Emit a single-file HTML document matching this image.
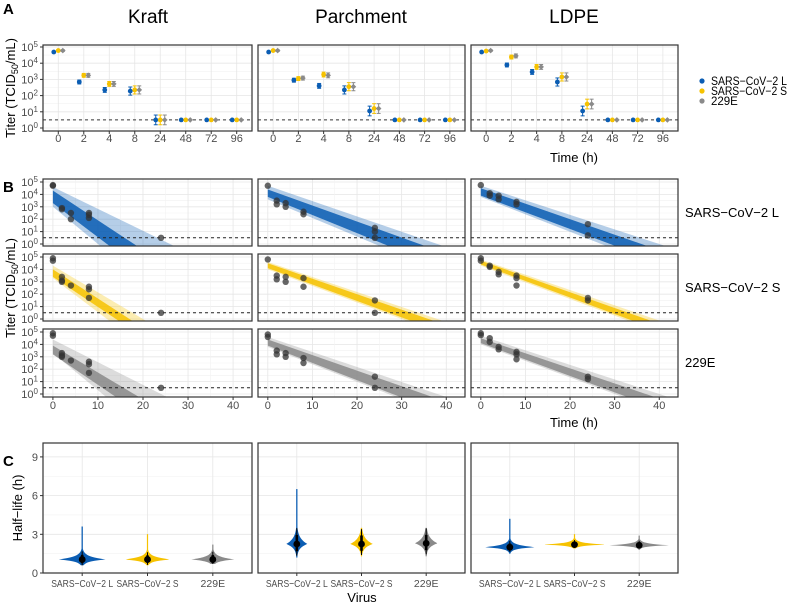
<!DOCTYPE html>
<html><head><meta charset="utf-8"><style>
body{margin:0;background:#fff}
svg{display:block;font-family:"Liberation Sans",Arial,sans-serif}
</style></head><body>
<svg id="fig" width="789" height="606" viewBox="0 0 789 606" xmlns="http://www.w3.org/2000/svg">
<defs></defs>
<g id="root"></g>
</svg>
<script>
// ---------- DATA ----------
const materials = ["Kraft","Parchment","LDPE"];
const viruses = ["SARS\u2212CoV\u22122 L","SARS\u2212CoV\u22122 S","229E"];
const timeCats = ["0","2","4","8","24","48","72","96"];
const lodLog = 0.5;
// Panel A: log10 titer means per material per virus (8 timepoints)
const aKraftL = [4.69,2.84,2.35,2.28,0.5,0.5,0.5,0.5];
const aKraftS = [4.78,3.25,2.72,2.35,0.5,0.5,0.5,0.5];
const aKraftE = [4.78,3.25,2.72,2.35,0.5,0.5,0.5,0.5];
const aParchL = [4.69,2.95,2.6,2.35,1.05,0.5,0.5,0.5];
const aParchS = [4.78,3.05,3.3,2.55,1.2,0.5,0.5,0.5];
const aParchE = [4.78,3.08,3.25,2.55,1.2,0.5,0.5,0.5];
const aLdpeL = [4.69,3.89,3.46,2.84,1.05,0.5,0.5,0.5];
const aLdpeS = [4.75,4.38,3.77,3.15,1.48,0.5,0.5,0.5];
const aLdpeE = [4.78,4.45,3.77,3.15,1.48,0.5,0.5,0.5];
const aErr = [0.05,0.12,0.15,0.25,0.3,0,0,0];
// Panel B: fan bands [start log10 at t=0, time at 10^0] outer/inner edges
const bFanOuter = [[[4.6,26],[3.0,10]],[[4.3,20],[3.3,12]],[[4.4,24],[3.3,11]],
                   [[4.7,38],[3.6,24]],[[4.6,38],[4.0,30]],[[4.6,38],[3.8,27]],
                   [[4.7,40],[3.8,27]],[[4.8,39],[4.3,32]],[[4.7,40],[4.0,30]]];
const bFanInner = [[[4.3,18],[3.3,12]],[[4.0,17],[3.4,14]],[[3.9,18],[3.2,13]],
                   [[4.4,34],[3.8,26]],[[4.5,36],[4.1,31]],[[4.4,35],[3.9,28]],
                   [[4.5,36],[3.9,29]],[[4.7,37],[4.4,33]],[[4.5,37],[4.1,31]]];
const bPtsT = [[0,0,2,2,4,4,8,8,8,24],[0,0,2,2,2,4,8,8,8,24],[0,0,2,2,2,4,8,8,8,24],
               [0,2,2,4,4,8,8,24,24,24],[0,2,2,4,4,8,8,24,24],[0,0,2,2,4,4,8,8,24,24],
               [0,2,2,4,4,8,8,24,24],[0,0,2,2,4,4,8,8,8,24,24],[0,0,2,2,4,4,8,8,8,24,24]];
const bPtsV = [[4.7,4.75,2.9,2.8,2.5,2.0,2.5,2.1,2.35,0.5],[4.9,4.7,3.4,3.1,3.0,2.7,2.6,2.4,1.7,0.5],[4.9,4.7,3.3,3.0,3.1,2.7,2.6,2.4,1.7,0.5],
               [4.7,3.5,3.2,3.0,3.3,2.6,2.4,1.3,1.0,0.5],[4.8,3.5,3.2,3.4,3.0,3.3,2.6,1.5,0.5],[4.8,4.6,3.5,3.2,3.3,3.0,2.9,2.5,1.4,0.5],
               [4.75,4.1,3.9,3.9,3.6,3.4,3.2,1.6,0.7],[4.9,4.7,4.3,4.2,3.8,3.6,3.5,3.3,2.7,1.7,1.5],[4.75,4.9,4.5,4.2,3.8,3.6,3.4,3.2,2.8,1.4,1.2]];
// Panel C: half-life posteriors (h)
const cMedian = [[1.05,1.05,1.05],[2.25,2.25,2.3],[2.0,2.2,2.15]];
const cLow = [[0.6,0.6,0.7],[1.2,1.3,1.3],[1.5,1.9,1.8]];
const cHigh = [[3.6,3.0,2.2],[6.5,3.5,3.5],[4.2,3.0,2.9]];
const cWidth = [[0.65,0.65,0.6],[0.3,0.32,0.32],[0.72,0.9,0.85]];
const cSpread = [[0.18,0.16,0.17],[0.35,0.33,0.33],[0.14,0.1,0.1]];

// ---------- HELPERS ----------
const NS="http://www.w3.org/2000/svg";
const root=document.getElementById('root');
function mk(tag,attrs,parent){const e=document.createElementNS(NS,tag);for(const k in attrs)e.setAttribute(k,attrs[k]);(parent||root).appendChild(e);return e;}
const cols=["#0b5db3","#f6c200","#8a8a8a"];
const boxX=[[43,252],[258,465],[471,678]];
const labelLen=[62,62,0];
const tickCol="#4d4d4d", gridCol="#e6e6e6", gridMinor="#f2f2f2";
function txt(x,y,s,size,anchor,fill,parent){const t=mk('text',{x:x,y:y,'font-size':size,'text-anchor':anchor||'middle',fill:fill||'#000'},parent);t.textContent=s;return t;}
function powLabel(x,y,e,parent){const t=mk('text',{x:x,y:y,'font-size':11,'text-anchor':'end',fill:tickCol},parent);
  const a=mk('tspan',{},t);a.textContent='10';const b=mk('tspan',{dy:-4,'font-size':8},t);b.textContent=String(e);return t;}

// ---------- TITLES / LABELS ----------
const titleX=[148,361,574];
materials.forEach((m,i)=>{const t=txt(titleX[i],23,m,19);});
[["A",14],["B",192],["C",466]].forEach(([l,y])=>{const t=txt(3,y,l,15,'start');t.setAttribute('font-weight','bold');});

function yTitle(cx,cy){const t=mk('text',{transform:`translate(${cx},${cy}) rotate(-90)`,'font-size':13,'text-anchor':'middle'});
  const a=mk('tspan',{},t);a.textContent='Titer (TCID';const b=mk('tspan',{dy:3,'font-size':9},t);b.textContent='50';const c=mk('tspan',{dy:-3},t);c.textContent='/mL)';return t;}
let yt=yTitle(15,88);
yt=yTitle(15,288);
yt=mk('text',{transform:'translate(22,508) rotate(-90)','font-size':13,'text-anchor':'middle'});yt.textContent='Half\u2212life (h)';

let xt=txt(574,162,'Time (h)',13);
xt=txt(574,427,'Time (h)',13);
xt=txt(362,602,'Virus',13);

// legend
const leg=mk('g',{});
viruses.forEach((v,i)=>{const y=81+i*10;
  const d=mk('circle',{cx:702,cy:y,r:2.6,fill:cols[i]},leg);
  const t=txt(711,y+4,v,11.5,'start','#000',leg);
  if(i<2){t.setAttribute('textLength',76);t.setAttribute('lengthAdjust','spacingAndGlyphs');}
  });
// facet strip labels B
const stripY=[217,292,367];
viruses.forEach((v,i)=>{const t=txt(685,stripY[i],v,13,'start');});

// ---------- PANEL A ----------
const aData=[[aKraftL,aKraftS,aKraftE],[aParchL,aParchS,aParchE],[aLdpeL,aLdpeS,aLdpeE]];
const aTop=45,aBot=131;
function aY(v){return 128-v*16.2;}
aData.forEach((series,p)=>{
  const [L,R]=boxX[p];const w=R-L;
  const g=mk('g',{});
  function aX(i){return L+(i+0.6)*w/8.2;}
  for(let e=0;e<=5;e++){mk('line',{x1:L,x2:R,y1:aY(e),y2:aY(e),stroke:gridCol,'stroke-width':0.8},g);
    if(e<5)mk('line',{x1:L,x2:R,y1:aY(e+0.5),y2:aY(e+0.5),stroke:gridMinor,'stroke-width':0.6},g);}
  timeCats.forEach((c,i)=>{mk('line',{x1:aX(i),x2:aX(i),y1:aTop,y2:aBot,stroke:gridCol,'stroke-width':0.8},g);
    mk('line',{x1:aX(i),x2:aX(i),y1:aBot,y2:aBot+3,stroke:'#333'},g);
    const t=txt(aX(i),142,c,11,'middle',tickCol,g);});
  mk('line',{x1:L,x2:R,y1:aY(lodLog),y2:aY(lodLog),stroke:'#333','stroke-dasharray':'3,3','stroke-width':1},g);
  series.forEach((s,k)=>{s.forEach((v,i)=>{const x=aX(i)+(k-1)*4.5,y=aY(v),e=aErr[i]*16.2;
    if(e>0){mk('line',{x1:x,x2:x,y1:y-e,y2:y+e,stroke:cols[k],'stroke-width':1},g);
      mk('line',{x1:x-2,x2:x+2,y1:y-e,y2:y-e,stroke:cols[k]},g);mk('line',{x1:x-2,x2:x+2,y1:y+e,y2:y+e,stroke:cols[k]},g);}
    const c=mk(k==2?'rect':'circle',k==2?{x:x-2,y:y-2,width:4,height:4,fill:cols[k],transform:`rotate(45 ${x} ${y})`}:{cx:x,cy:y,r:2.4,fill:cols[k]},g);
    });});
  mk('rect',{x:L,y:aTop,width:w,height:aBot-aTop,fill:'none',stroke:'#333','stroke-width':1.2},g);
  if(p==0){for(let e=0;e<=5;e++){mk('line',{x1:L-3,x2:L,y1:aY(e),y2:aY(e),stroke:'#333'},g);powLabel(L-5,aY(e)+4,e,g);}}
});

// ---------- PANEL B ----------
const bRows=[[179,246],[254,321],[329,397]];
const defs=document.querySelector('defs');
bRows.forEach((r,ri)=>{boxX.forEach((bx,p)=>{
  const idx=p*3+ri;const [L,R]=bx;const w=R-L;const [T,B]=r;
  const g=mk('g',{});
  const cid='cl'+idx;const cp=mk('clipPath',{id:cid},defs);mk('rect',{x:L,y:T,width:w,height:B-T},cp);
  const bx_=t=>L+(t+2.2)*w/46.4; const by=v=>T+3+(5-v)*12.4;
  for(let e=0;e<=5;e++){mk('line',{x1:L,x2:R,y1:by(e),y2:by(e),stroke:gridCol,'stroke-width':0.8},g);
    if(e<5)mk('line',{x1:L,x2:R,y1:by(e+0.5),y2:by(e+0.5),stroke:gridMinor,'stroke-width':0.6},g);}
  for(let t=0;t<=40;t+=10){mk('line',{x1:bx_(t),x2:bx_(t),y1:T,y2:B,stroke:gridCol,'stroke-width':0.8},g);
    if(t<40)mk('line',{x1:bx_(t+5),x2:bx_(t+5),y1:T,y2:B,stroke:gridMinor,'stroke-width':0.6},g);}
  const cg=mk('g',{'clip-path':`url(#${cid})`},g);
  function band(pair,op){const [a,b]=pair;const vEnd=-0.5;
    const ta=a[1]*(a[0]-vEnd)/a[0], tb=b[1]*(b[0]-vEnd)/b[0];
    const poly=mk('polygon',{points:`${bx_(0)},${by(a[0])} ${bx_(ta)},${by(vEnd)} ${bx_(tb)},${by(vEnd)} ${bx_(0)},${by(b[0])}`,fill:cols[ri],opacity:op},cg);
    }
  band(bFanOuter[idx],0.3);band(bFanInner[idx],0.85);
  mk('line',{x1:L,x2:R,y1:by(lodLog),y2:by(lodLog),stroke:'#222','stroke-dasharray':'3,3','stroke-width':1},g);
  bPtsT[idx].forEach((t,j)=>{const c=mk('circle',{cx:bx_(t),cy:by(bPtsV[idx][j]),r:3.2,fill:'#333',opacity:0.75},g);
    });
  mk('rect',{x:L,y:T,width:w,height:B-T,fill:'none',stroke:'#333','stroke-width':1.2},g);
  if(p==0){for(let e=0;e<=5;e++){mk('line',{x1:L-3,x2:L,y1:by(e),y2:by(e),stroke:'#333'},g);powLabel(L-5,by(e)+4,e,g);}}
  if(ri==2){for(let t=0;t<=40;t+=10){mk('line',{x1:bx_(t),x2:bx_(t),y1:B,y2:B+3,stroke:'#333'},g);
    const tl=txt(bx_(t),409,String(t),11,'middle',tickCol,g);}}
});});

// ---------- PANEL C ----------
const cT=443,cB=573;const cy=v=>cB-v*12.9;
boxX.forEach((bx,p)=>{const [L,R]=bx;const w=R-L;
  const g=mk('g',{});
  const cx=i=>L+(i+0.6)*w/3.2;
  [0,3,6,9].forEach(v=>{mk('line',{x1:L,x2:R,y1:cy(v),y2:cy(v),stroke:gridCol,'stroke-width':0.8},g);});
  [1.5,4.5,7.5].forEach(v=>{mk('line',{x1:L,x2:R,y1:cy(v),y2:cy(v),stroke:gridMinor,'stroke-width':0.6},g);});
  viruses.forEach((v,i)=>{mk('line',{x1:cx(i),x2:cx(i),y1:cT,y2:cB,stroke:gridCol,'stroke-width':0.8},g);});
  viruses.forEach((v,i)=>{const x=cx(i),m=cMedian[p][i],lo=cLow[p][i],hi=cHigh[p][i],hw=cWidth[p][i]*w/3.2*0.55,s=cSpread[p][i];
    mk('line',{x1:x,x2:x,y1:cy(lo),y2:cy(hi),stroke:cols[i],'stroke-width':0.8},g);
    const pts=[];const N=60;
    for(let k=0;k<=N;k++){const val=lo+(hi-lo)*k/N;const ss=val<m?s*0.9:s*1.3;
      const d=Math.max(0.6,hw*Math.exp(-Math.abs(val-m)/ss));pts.push([x+d,cy(val)]);}
    const left=pts.slice().reverse().map(q=>[2*x-q[0],q[1]]);
    const vi=mk('polygon',{points:pts.concat(left).map(q=>q.join(',')).join(' '),fill:cols[i]},g);
    
    mk('line',{x1:x,x2:x,y1:cy(m-s*1.6),y2:cy(m+s*2),stroke:'#000','stroke-width':2.6},g);
    mk('line',{x1:x,x2:x,y1:cy(Math.max(lo,m-s*2.6)),y2:cy(Math.min(hi,m+s*3.5)),stroke:'#000','stroke-width':1},g);
    const md=mk('circle',{cx:x,cy:cy(m),r:3.4,fill:'#000'},g);
    mk('line',{x1:x,x2:x,y1:cB,y2:cB+3,stroke:'#333'},g);
    const tl=txt(x,587,v,10.5,'middle',tickCol,g);
    if(labelLen[i]>0){tl.setAttribute('textLength',labelLen[i]);tl.setAttribute('lengthAdjust','spacingAndGlyphs');}
    });
  mk('rect',{x:L,y:cT,width:w,height:cB-cT,fill:'none',stroke:'#333','stroke-width':1.2},g);
  if(p==0){[0,3,6,9].forEach(v=>{mk('line',{x1:L-3,x2:L,y1:cy(v),y2:cy(v),stroke:'#333'},g);
    const t=txt(L-5,cy(v)+4,String(v),11,'end',tickCol,g);});}
});
</script>
</body></html>
